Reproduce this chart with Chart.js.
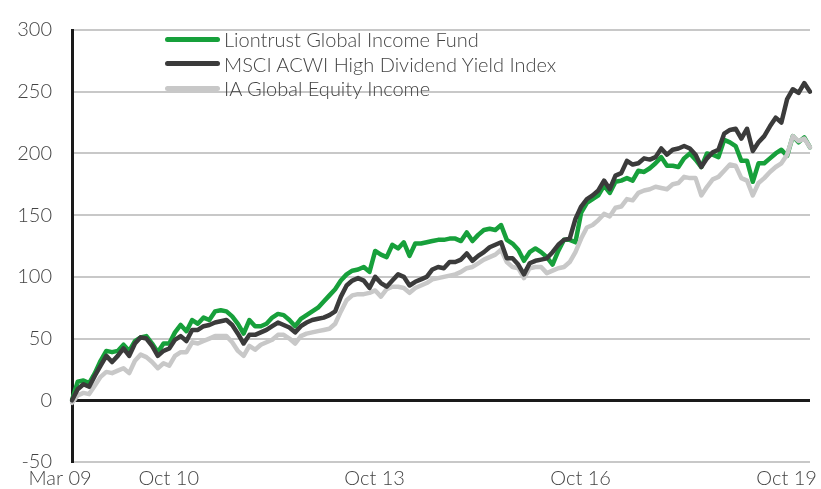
<!DOCTYPE html>
<html>
<head>
<meta charset="utf-8">
<script src="https://cdn.jsdelivr.net/npm/chart.js@4/dist/chart.umd.min.js"></script>
<style>
  html, body { margin: 0; padding: 0; background: #fff; }
  #wrap { position: relative; width: 821px; height: 489px; }
  #legend { position: absolute; left: 165px; top: 27px; font-family: Lato, "Noto Sans", sans-serif; font-weight: 300; font-size: 20px; color: #444; }
  .row { height: 24.5px; line-height: 24.5px; display: flex; align-items: center; white-space: nowrap; }
  .sw { width: 55px; height: 5px; border-radius: 3px; margin-right: 4px; }
</style>
</head>
<body>
<div id="wrap">
  <canvas id="c" width="821" height="489"></canvas>
  <div id="legend"></div>
</div>
<script>
// ---- data (monthly, Mar 2009 .. Dec 2019), cumulative % return ----
const startYear = 2009, startMonth = 2; // March (0-based)
const monthCount = 130;
const tickLabels = ['Mar 09', 'Oct 10', 'Oct 13', 'Oct 16', 'Oct 19'];
const yTicks = [-50, 0, 50, 100, 150, 200, 250, 300];

const seriesNames = ['Liontrust Global Income Fund', 'MSCI ACWI High Dividend Yield Index', 'IA Global Equity Income'];
const seriesColors = ['#17a03b', '#3b3b3b', '#c8c8c8'];

const liontrust = [0,15,16,14,22,32,40,39,40,45,40,48,51,52,46,39,46,46,55,61,56,65,62,67,65,72,73,72,68,62,54,65,60,60,62,67,70,69,65,60,66,69,72,75,80,85,90,97,102,105,106,108,104,121,118,116,126,123,128,117,127,127,128,129,130,130,131,131,129,136,129,134,138,139,138,142,130,127,122,113,120,123,120,116,110,121,130,130,128,152,160,163,166,174,168,177,178,180,178,186,185,188,192,197,190,190,189,196,200,195,189,200,199,197,211,209,206,194,194,177,192,192,196,200,203,198,214,209,213,205];
const msci = [0,9,13,11,20,28,36,31,36,42,36,46,51,50,44,36,40,42,49,52,48,57,57,60,61,63,64,65,61,54,46,53,53,55,57,60,63,61,59,55,60,63,65,66,67,69,72,84,93,97,99,97,91,100,95,92,97,102,100,93,96,98,100,106,108,107,112,112,114,119,113,117,120,124,126,128,115,115,110,102,111,113,114,115,120,126,130,131,147,157,163,166,170,178,171,182,184,194,191,192,196,195,197,204,199,203,204,206,204,199,189,196,201,203,216,219,220,212,220,202,209,214,222,229,225,244,252,249,257,250];
const iaGlobal = [-2,4,6,5,12,19,23,22,24,26,22,32,37,35,31,26,30,28,36,39,39,47,46,48,50,52,52,52,47,40,36,44,41,45,47,49,53,53,50,46,52,54,55,56,57,58,62,72,81,85,86,86,87,89,84,90,92,92,91,87,91,93,95,98,99,100,101,102,104,107,108,111,114,116,118,122,112,108,107,99,107,108,108,103,105,107,108,112,120,131,140,142,146,151,149,156,157,163,162,168,170,171,173,172,171,175,176,181,180,180,166,173,179,181,186,191,190,180,178,166,176,180,185,189,192,199,214,210,212,205];

const monthNames = ['Jan','Feb','Mar','Apr','May','Jun','Jul','Aug','Sep','Oct','Nov','Dec'];
const categories = [];
for (let i = 0; i < monthCount; i++) {
  const m = (startMonth + i) % 12;
  const y = startYear + Math.floor((startMonth + i) / 12);
  categories.push(monthNames[m] + ' ' + String(y % 100).padStart(2, '0'));
}

// ---- HTML legend ----
const legendEl = document.getElementById('legend');
seriesNames.forEach((n, i) => {
  const row = document.createElement('div'); row.className = 'row';
  const sw = document.createElement('span'); sw.className = 'sw'; sw.style.background = seriesColors[i];
  const tx = document.createElement('span'); tx.textContent = n;
  row.appendChild(sw); row.appendChild(tx); legendEl.appendChild(row);
});

const FONT = { family: 'Lato, "Noto Sans", sans-serif', size: 20, weight: 300 };
const values = [liontrust, msci, iaGlobal];
const orders = [3, 1, 2];

new Chart(document.getElementById('c'), {
  type: 'line',
  data: {
    labels: categories,
    datasets: values.map((v, i) => ({
      label: seriesNames[i], data: v, borderColor: seriesColors[i], backgroundColor: seriesColors[i],
      borderWidth: 4.5, pointRadius: 0, tension: 0, borderJoinStyle: 'round', borderCapStyle: 'round', order: orders[i]
    }))
  },
  options: {
    responsive: false, animation: false, events: [],
    layout: { padding: { left: 0, right: 0, top: 30, bottom: 0 } },
    plugins: { legend: { display: false }, tooltip: { enabled: false } },
    scales: {
      x: {
        type: 'category', offset: false,
        afterFit: s => { s.height = 27; s.paddingRight = 11; },
        grid: { display: false }, border: { display: false },
        ticks: {
          autoSkip: false, maxRotation: 0, minRotation: 0, padding: -3, labelOffset: -12,
          color: '#444', font: FONT,
          callback: function (val, idx) { const l = categories[idx]; return tickLabels.includes(l) ? l : null; }
        }
      },
      y: {
        min: -50, max: 300,
        afterFit: s => { s.width = 72; s.paddingTop = 0; s.paddingBottom = 0; },
        afterBuildTicks: s => { s.ticks = yTicks.map(v => ({ value: v })); },
        grid: {
          drawTicks: false,
          color: c => c.tick && c.tick.value === 0 ? '#1a1a1a' : '#c8c8c8',
          lineWidth: c => c.tick && c.tick.value === 0 ? 3 : 2
        },
        border: { display: true, color: '#1a1a1a', width: 3 },
        ticks: { padding: 20, color: '#444', font: FONT }
      }
    }
  }
});
</script>
</body>
</html>
